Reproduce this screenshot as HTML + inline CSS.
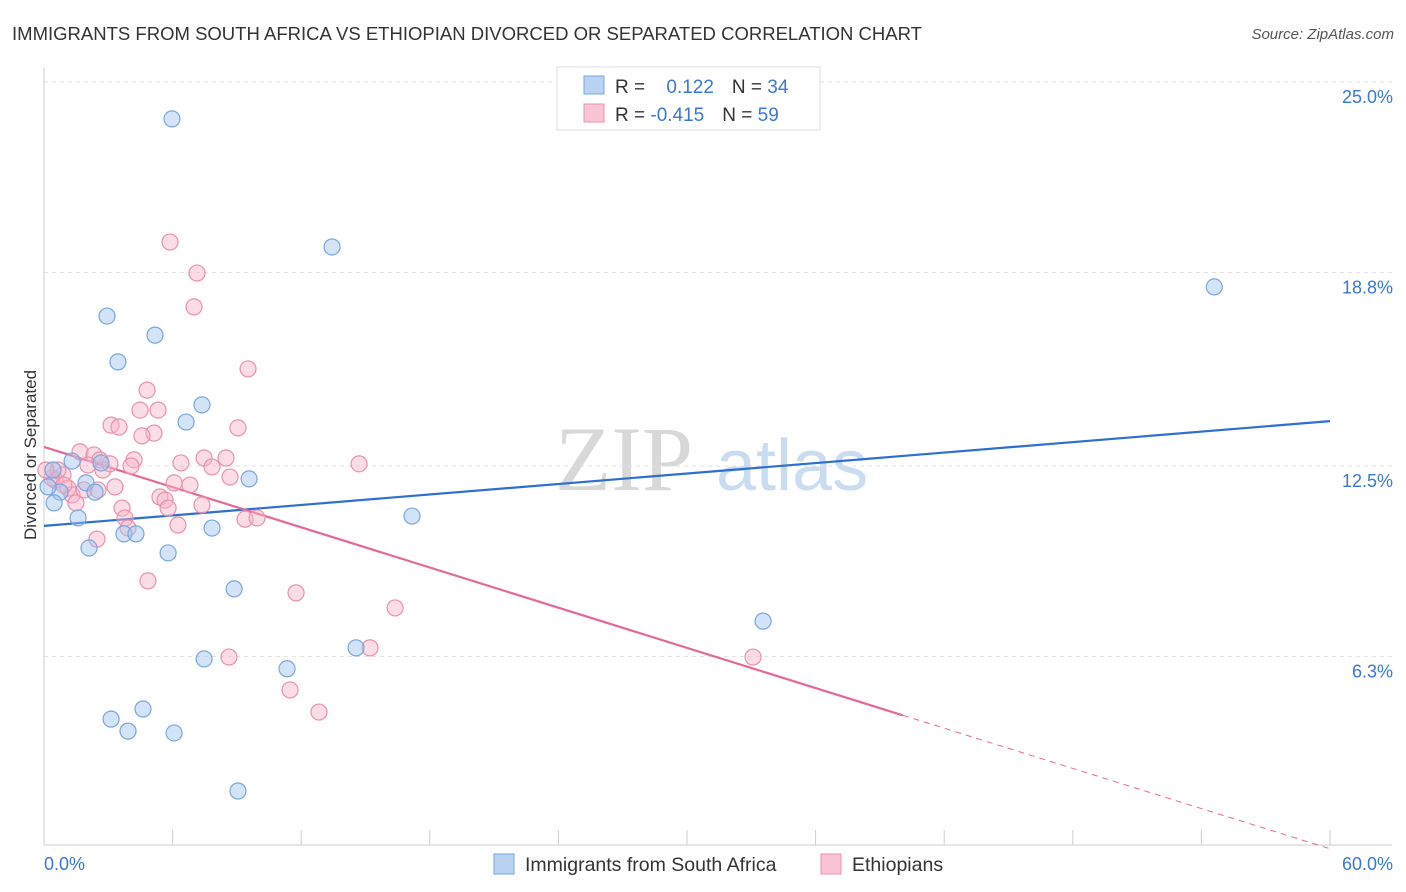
<!DOCTYPE html>
<html><head><meta charset="utf-8">
<style>
body{margin:0;background:#fff;font-family:"Liberation Sans",sans-serif;}
svg{display:block}
</style></head>
<body>
<svg id="chart" width="1406" height="892">
<text x="12" y="40" font-size="18" fill="#333" textLength="910" lengthAdjust="spacingAndGlyphs">IMMIGRANTS FROM SOUTH AFRICA VS ETHIOPIAN DIVORCED OR SEPARATED CORRELATION CHART</text>
<text x="1394" y="39" font-size="15" fill="#555" font-style="italic" text-anchor="end">Source: ZipAtlas.com</text>
<text x="36" y="455" font-size="17" fill="#333" text-anchor="middle" transform="rotate(-90 36 455)">Divorced or Separated</text>
<g>
<text x="555" y="490" font-size="92" fill="#d8d8d8" font-family="Liberation Serif,serif">ZIP</text>
<text x="716" y="490" font-size="72" fill="#c9dcf0">atlas</text>
</g>
<g id="grid"></g><g id="axes"></g><g id="lines"></g><g id="pts"></g>
<g>
<rect x="557" y="67" width="263" height="63" fill="#fff" stroke="#ddd"/>
<rect x="584" y="76" width="20" height="18" fill="#b9d3f3" stroke="#7aa6dd"/>
<rect x="584" y="104" width="20" height="18" fill="#f9c4d4" stroke="#e991ad"/>
<text x="615" y="93" font-size="19" fill="#333">R = <tspan fill="#3a78d4" dx="16">0.122</tspan><tspan dx="18" fill="#333">N = </tspan><tspan fill="#3a78d4">34</tspan></text>
<text x="615" y="121" font-size="19" fill="#333">R = <tspan fill="#3a78d4">-0.415</tspan><tspan dx="18" fill="#333">N = </tspan><tspan fill="#3a78d4">59</tspan></text>
</g>
<g>
<rect x="494" y="854" width="20" height="20" fill="#b9d3f3" stroke="#7aa6dd"/>
<text x="525" y="871" font-size="19.5" fill="#333">Immigrants from South Africa</text>
<rect x="821" y="854" width="20" height="20" fill="#f9c4d4" stroke="#e991ad"/>
<text x="852" y="871" font-size="19.5" fill="#333">Ethiopians</text>
</g>
</svg>
<script>
const yTicks=[25.0,18.8,12.5,6.3];
const yTickLabels=["25.0%","18.8%","12.5%","6.3%"];
const xTickLabels=["0.0%","60.0%"];
const blueX=[5.97,13.44,54.6,2.94,5.18,3.45,7.37,6.63,9.57,1.31,2.66,0.42,1.96,0.75,2.38,0.47,1.59,3.73,4.29,7.84,2.1,5.79,17.17,8.87,33.55,14.56,7.47,11.34,4.62,3.13,3.92,6.07,9.05,0.19];
const blueY=[23.8,19.63,18.33,17.38,16.76,15.89,14.49,13.93,12.08,12.66,12.6,12.37,11.95,11.65,11.65,11.3,10.81,10.29,10.29,10.48,9.83,9.67,10.87,8.5,7.45,6.58,6.22,5.9,4.59,4.26,3.87,3.81,1.92,11.82];
const pinkX=[5.88,7.14,7.0,9.52,4.81,4.48,5.32,3.13,3.5,9.05,5.13,4.57,1.68,2.33,2.61,7.47,8.49,4.2,2.05,6.39,7.84,4.06,14.7,8.68,0.89,0.51,3.31,1.12,6.07,6.81,5.41,5.65,1.31,1.49,7.37,3.64,5.79,3.78,9.38,9.94,6.25,3.92,2.47,4.85,11.76,16.38,15.21,8.63,33.08,11.48,12.83,0.37,0.65,0.93,1.87,2.75,3.08,2.52,0.09];
const pinkY=[19.79,18.78,17.68,15.66,14.97,14.32,14.32,13.83,13.77,13.74,13.57,13.48,12.96,12.86,12.7,12.76,12.76,12.7,12.53,12.6,12.47,12.5,12.57,12.14,12.21,12.04,11.82,11.78,11.95,11.88,11.49,11.39,11.56,11.3,11.23,11.13,11.13,10.81,10.77,10.81,10.58,10.48,10.12,8.76,8.37,7.88,6.58,6.28,6.28,5.21,4.49,12.11,12.37,11.88,11.72,12.37,12.57,11.72,12.37];
const blueTrend=[10.55,13.96];
const pinkTrend=[13.12,-0.218];
const X0=44,X1=1330,Y0=850,YS=30.72;
const sx=v=>X0+(X1-X0)*v/60, sy=v=>Y0-v*YS;
const NS="http://www.w3.org/2000/svg";
function mk(tag,attrs,parent){const e=document.createElementNS(NS,tag);for(const k in attrs)e.setAttribute(k,attrs[k]);document.getElementById(parent).appendChild(e);return e;}
yTicks.forEach((t,i)=>{
 const g=mk("line",{x1:44,x2:1392,y1:sy(t),y2:sy(t),stroke:"#e2e2e2","stroke-dasharray":"4,4"},"grid");
 
 
 const l=mk("text",{x:1393,y:sy(t)+21,"font-size":18,fill:"#3a78d4","text-anchor":"end"},"axes");
 l.textContent=yTickLabels[i];
 
 
});
const ax=mk("line",{x1:44,x2:44,y1:68,y2:845,stroke:"#ccc"},"axes");


const bx=mk("line",{x1:44,x2:1392,y1:845,y2:845,stroke:"#ccc"},"axes");


for(let i=0;i<=10;i++){const t=mk("line",{x1:sx(i*6),x2:sx(i*6),y1:830,y2:845,stroke:"#ccc"},"axes");
 
 }
const xl0=mk("text",{x:44,y:870,"font-size":18,fill:"#3a78d4"},"axes");xl0.textContent=xTickLabels[0];


const xl1=mk("text",{x:1393,y:870,"font-size":18,fill:"#3a78d4","text-anchor":"end"},"axes");xl1.textContent=xTickLabels[1];


pinkX.forEach((x,i)=>{const c=mk("circle",{cx:sx(x),cy:sy(pinkY[i]),r:8,fill:"rgba(248,180,200,0.45)",stroke:"#e991ad","stroke-width":1.2},"pts");
 
 });
blueX.forEach((x,i)=>{const c=mk("circle",{cx:sx(x),cy:sy(blueY[i]),r:8,fill:"rgba(160,196,240,0.45)",stroke:"#7aa6dd","stroke-width":1.2},"pts");
 
 });
const bl=mk("line",{x1:sx(0),y1:sy(blueTrend[0]),x2:sx(60),y2:sy(blueTrend[1]),stroke:"#2f6fd0","stroke-width":2.2},"lines");


const pe=40.07,pf=v=>pinkTrend[0]+pinkTrend[1]*v;
const pl=mk("line",{x1:sx(0),y1:sy(pf(0)),x2:sx(pe),y2:sy(pf(pe)),stroke:"#e4699a","stroke-width":2.2},"lines");


const pd=mk("line",{x1:sx(pe),y1:sy(pf(pe)),x2:sx(60),y2:sy(Math.max(pf(60),-0.15)),stroke:"#e4699a","stroke-width":1,"stroke-dasharray":"6,5"},"lines");


</script>
</body></html>
